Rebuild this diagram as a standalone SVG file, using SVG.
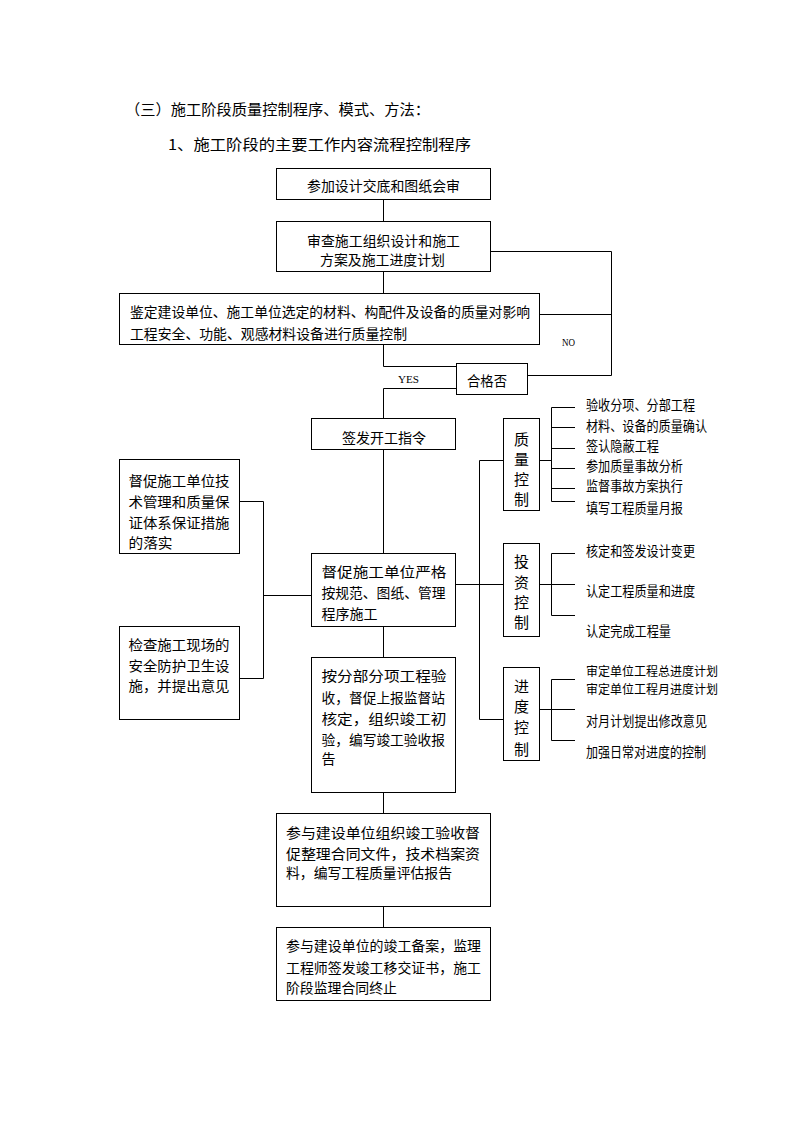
<svg xmlns="http://www.w3.org/2000/svg" width="794" height="1123" viewBox="0 0 794 1123">
<style>
.b{fill:#fff;stroke:#000;stroke-width:1}
.c{fill:none;stroke:#000;stroke-width:1}
text{font-family:"Noto Sans CJK SC","Noto Sans",sans-serif;font-size:14px;fill:#000;dominant-baseline:central}
.h{font-size:15px}
.v{font-size:15px;text-anchor:middle}
.r{font-size:13.5px}
.t{font-size:12.5px}
.s{font-family:"Liberation Serif",serif;font-size:11px}
</style>
<rect width="794" height="1123" fill="#fff"/>
<g id="heading">
<text class="h" x="125" y="108" textLength="305" lengthAdjust="spacingAndGlyphs">（三）施工阶段质量控制程序、模式、方法：</text>
<text class="h" x="168" y="143" textLength="303" lengthAdjust="spacingAndGlyphs">1、施工阶段的主要工作内容流程控制程序</text>
</g>
<g id="connectors">
<path class="c" d="M383.5,199 V221 M383.5,272 V293 M383.5,345 V366.5 H456 M456,388.5 H383.5 V418 M383.5,450 V553 M383.5,627 V657 M383.5,793 V813 M383.5,907 V927"/>
<path class="c" d="M491,251.5 H611.5 V375.5 H528 M539,314.5 H611.5"/>
<path class="c" d="M239,501.5 H263.5 V678.5 H239 M263.5,595.5 H311"/>
<path class="c" d="M456,584.5 H503 M479.5,460.5 V719.5 M479.5,460.5 H503 M479.5,719.5 H503"/>
<path class="c" d="M540,460.5 H551.5 M551.5,407.5 V501.5 M551.5,407.5 H575 M551.5,427.5 H575 M551.5,448.5 H575 M551.5,468.5 H575 M551.5,488.5 H575 M551.5,501.5 H575"/>
<path class="c" d="M540,584.5 H551.5 M551.5,553.5 V615.5 M551.5,553.5 H575 M551.5,584.5 H575 M551.5,615.5 H575"/>
<path class="c" d="M540,709.5 H551.5 M551.5,679.5 V740.5 M551.5,679.5 H575 M551.5,709.5 H575 M551.5,740.5 H575"/>
<text class="s" x="398" y="379" textLength="21" lengthAdjust="spacingAndGlyphs">YES</text>
<text class="s" x="562" y="342" textLength="13" lengthAdjust="spacingAndGlyphs">NO</text>
</g>
<g id="n1"><rect class="b" x="276.5" y="168.5" width="214" height="31"/>
<text x="307" y="185" textLength="153" lengthAdjust="spacingAndGlyphs">参加设计交底和图纸会审</text></g>
<g id="n2"><rect class="b" x="276.5" y="221.5" width="214" height="50"/>
<text x="307" y="240" textLength="153" lengthAdjust="spacingAndGlyphs">审查施工组织设计和施工</text>
<text x="320" y="259" textLength="125" lengthAdjust="spacingAndGlyphs">方案及施工进度计划</text></g>
<g id="n3"><rect class="b" x="119.5" y="293.5" width="420" height="51"/>
<text x="130" y="311" textLength="400" lengthAdjust="spacingAndGlyphs">鉴定建设单位、施工单位选定的材料、构配件及设备的质量对影响</text>
<text x="130" y="332.5" textLength="277" lengthAdjust="spacingAndGlyphs">工程安全、功能、观感材料设备进行质量控制</text></g>
<g id="n4"><rect class="b" x="456.5" y="363.5" width="71" height="31"/>
<text x="467" y="380" textLength="40" lengthAdjust="spacingAndGlyphs">合格否</text></g>
<g id="n5"><rect class="b" x="311.5" y="418.5" width="144" height="31"/>
<text x="342" y="436.5" textLength="84" lengthAdjust="spacingAndGlyphs">签发开工指令</text></g>
<g id="n6"><rect class="b" x="119.5" y="459.5" width="120" height="94"/>
<text x="128.5" y="480" textLength="101" lengthAdjust="spacingAndGlyphs">督促施工单位技</text>
<text x="128.5" y="500.5" textLength="101" lengthAdjust="spacingAndGlyphs">术管理和质量保</text>
<text x="128.5" y="521.5" textLength="101" lengthAdjust="spacingAndGlyphs">证体系保证措施</text>
<text x="128.5" y="541.5" textLength="44" lengthAdjust="spacingAndGlyphs">的落实</text></g>
<g id="n7"><rect class="b" x="119.5" y="626.5" width="120" height="93"/>
<text x="128.5" y="644" textLength="101" lengthAdjust="spacingAndGlyphs">检查施工现场的</text>
<text x="128.5" y="665" textLength="101" lengthAdjust="spacingAndGlyphs">安全防护卫生设</text>
<text x="128.5" y="684.5" textLength="101" lengthAdjust="spacingAndGlyphs">施，并提出意见</text></g>
<g id="n8"><rect class="b" x="311.5" y="553.5" width="144" height="73"/>
<text x="321.5" y="570.5" textLength="125" lengthAdjust="spacingAndGlyphs">督促施工单位严格</text>
<text x="321.5" y="591.5" textLength="124" lengthAdjust="spacingAndGlyphs">按规范、图纸、管理</text>
<text x="321.5" y="613" textLength="56" lengthAdjust="spacingAndGlyphs">程序施工</text></g>
<g id="n9"><rect class="b" x="311.5" y="657.5" width="144" height="135"/>
<text x="321.5" y="675" textLength="125" lengthAdjust="spacingAndGlyphs">按分部分项工程验</text>
<text x="321.5" y="696.5" textLength="123.5" lengthAdjust="spacingAndGlyphs">收，督促上报监督站</text>
<text x="321.5" y="718" textLength="125" lengthAdjust="spacingAndGlyphs">核定，组织竣工初</text>
<text x="321.5" y="739" textLength="123.5" lengthAdjust="spacingAndGlyphs">验，编写竣工验收报</text>
<text x="321.5" y="757.5">告</text></g>
<g id="n10"><rect class="b" x="276.5" y="813.5" width="214" height="93"/>
<text x="286" y="831.5" textLength="194" lengthAdjust="spacingAndGlyphs">参与建设单位组织竣工验收督</text>
<text x="286" y="853" textLength="194" lengthAdjust="spacingAndGlyphs">促整理合同文件，技术档案资</text>
<text x="286" y="871.5" textLength="166" lengthAdjust="spacingAndGlyphs">料，编写工程质量评估报告</text></g>
<g id="n11"><rect class="b" x="276.5" y="927.5" width="214" height="73"/>
<text x="286" y="945" textLength="195" lengthAdjust="spacingAndGlyphs">参与建设单位的竣工备案，监理</text>
<text x="286" y="966.5" textLength="195" lengthAdjust="spacingAndGlyphs">工程师签发竣工移交证书，施工</text>
<text x="286" y="986.5" textLength="111" lengthAdjust="spacingAndGlyphs">阶段监理合同终止</text></g>
<g id="n12"><rect class="b" x="503.5" y="418.5" width="36" height="92"/>
<text class="v" x="521.5" y="438.5">质</text><text class="v" x="521.5" y="458">量</text><text class="v" x="521.5" y="478.5">控</text><text class="v" x="521.5" y="498.5">制</text></g>
<g id="n13"><rect class="b" x="503.5" y="543.5" width="36" height="93"/>
<text class="v" x="521.5" y="560">投</text><text class="v" x="521.5" y="581">资</text><text class="v" x="521.5" y="601.5">控</text><text class="v" x="521.5" y="621.5">制</text></g>
<g id="n14"><rect class="b" x="503.5" y="667.5" width="36" height="93"/>
<text class="v" x="521.5" y="685">进</text><text class="v" x="521.5" y="705">度</text><text class="v" x="521.5" y="726.5">控</text><text class="v" x="521.5" y="748">制</text></g>
<g id="n15">
<text class="r" x="586" y="404" textLength="109" lengthAdjust="spacingAndGlyphs">验收分项、分部工程</text>
<text class="r" x="586" y="424.5" textLength="121" lengthAdjust="spacingAndGlyphs">材料、设备的质量确认</text>
<text class="r" x="586" y="445" textLength="73" lengthAdjust="spacingAndGlyphs">签认隐蔽工程</text>
<text class="r" x="586" y="465" textLength="97" lengthAdjust="spacingAndGlyphs">参加质量事故分析</text>
<text class="r" x="586" y="485" textLength="97" lengthAdjust="spacingAndGlyphs">监督事故方案执行</text>
<text class="r" x="586" y="507" textLength="97" lengthAdjust="spacingAndGlyphs">填写工程质量月报</text>
</g>
<g id="n16">
<text class="r" x="586" y="549.5" textLength="109" lengthAdjust="spacingAndGlyphs">核定和签发设计变更</text>
<text class="r" x="586" y="589.5" textLength="109" lengthAdjust="spacingAndGlyphs">认定工程质量和进度</text>
<text class="r" x="586" y="629.5" textLength="85" lengthAdjust="spacingAndGlyphs">认定完成工程量</text>
</g>
<g id="n17">
<text class="t" x="586" y="670" textLength="132" lengthAdjust="spacingAndGlyphs">审定单位工程总进度计划</text>
<text class="t" x="586" y="688" textLength="132" lengthAdjust="spacingAndGlyphs">审定单位工程月进度计划</text>
<text class="r" x="586" y="720" textLength="121" lengthAdjust="spacingAndGlyphs">对月计划提出修改意见</text>
<text class="r" x="586" y="750.5" textLength="120" lengthAdjust="spacingAndGlyphs">加强日常对进度的控制</text>
</g>
</svg>
